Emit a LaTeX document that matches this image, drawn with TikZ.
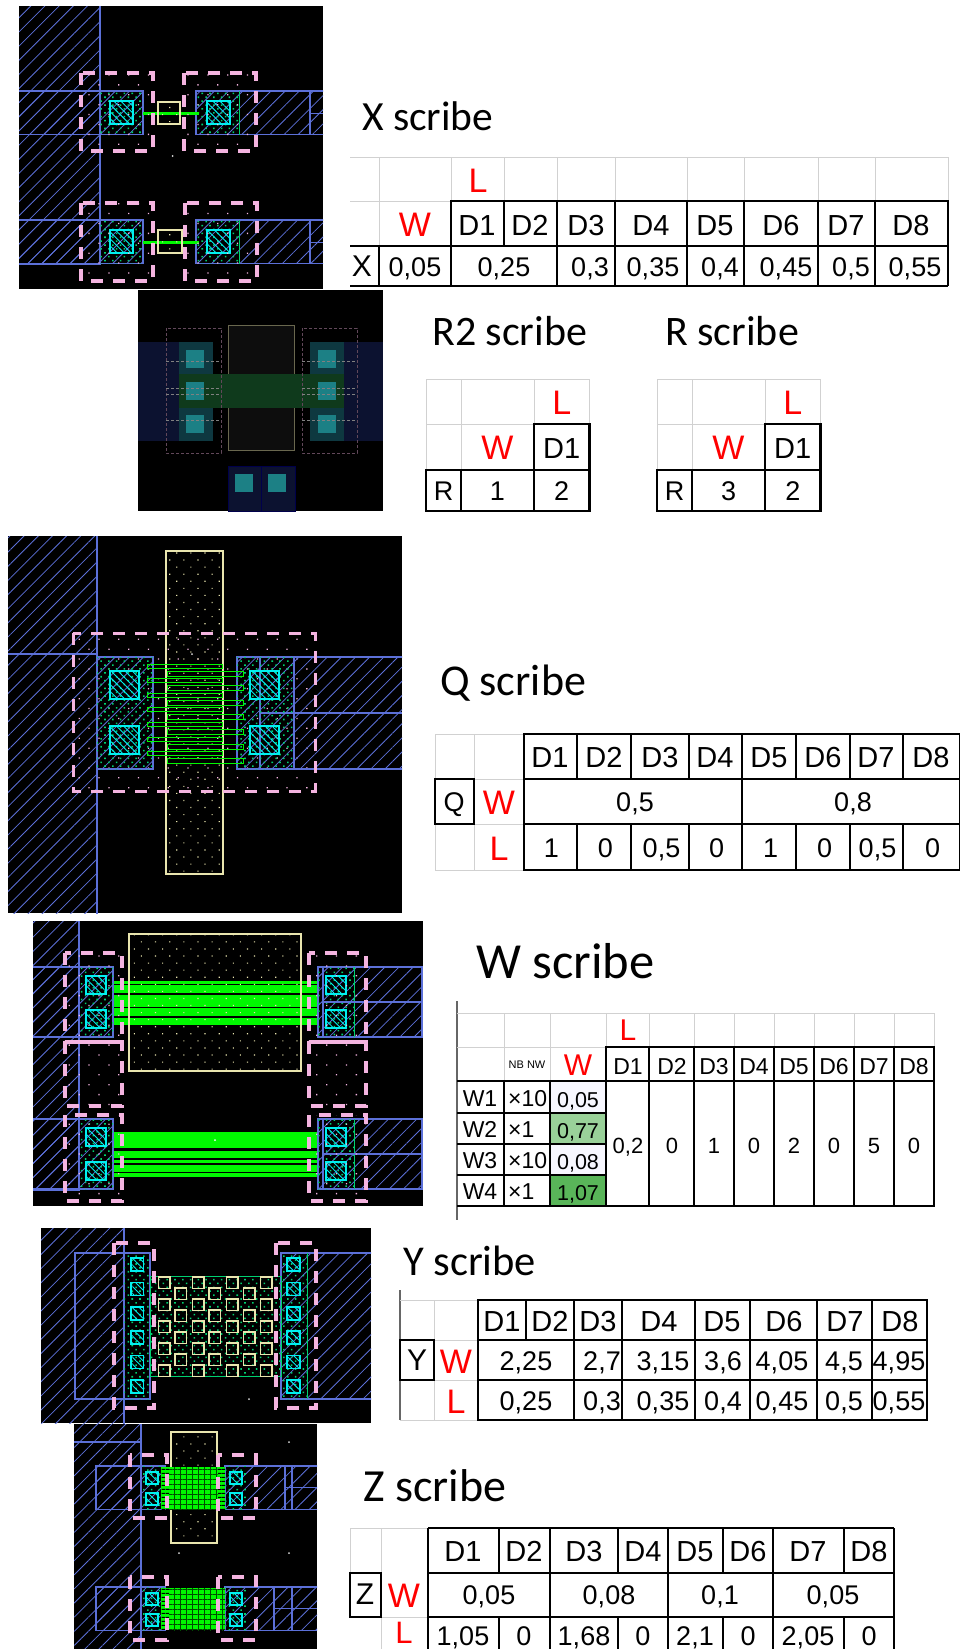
\documentclass[tikz,border=0pt]{standalone}
\usepackage{fontspec}
\setmainfont{Liberation Sans}
\newfontfamily\titlefont{Carlito}
\usetikzlibrary{patterns.meta}
\definecolor{metalblue}{HTML}{5C70D8}
\definecolor{selpink}{HTML}{F4B4E0}
\definecolor{polycream}{HTML}{E9E5AE}
\definecolor{gategreen}{HTML}{00F800}
\definecolor{diffgreen}{HTML}{00D070}
\definecolor{viacyan}{HTML}{00F0F0}
\definecolor{dimmetal}{HTML}{0C1230}
\definecolor{dimdiff}{HTML}{0E3840}
\definecolor{dimgate}{HTML}{0F3A1C}
\definecolor{dimvia}{HTML}{1C8085}
\tikzset{
  metal/.style={draw=metalblue,line width=1.2pt,pattern={Lines[angle=45,distance=10pt,line width=.8pt]},pattern color=metalblue},
  metalline/.style={draw=metalblue,line width=1.2pt},
  diffusion/.style={pattern={Dots[angle=45,distance=5.5pt,radius=1.1pt]},pattern color=diffgreen},
  contact/.style={draw=viacyan,line width=1.5pt,pattern={Lines[angle=-45,distance=5pt,line width=.9pt]},pattern color=viacyan},
  poly/.style={draw=polycream,line width=1.3pt,pattern={Dots[angle=45,distance=10pt,radius=.8pt]},pattern color=polycream},
  gate/.style={fill=gategreen},
  finger/.style={draw=gategreen,line width=1pt},
  selbox/.style={draw=selpink,line width=3.6pt,dash pattern=on 12pt off 10pt},
  seldots/.style={pattern={Dots[angle=45,distance=14pt,radius=.9pt]},pattern color=selpink},
  gridline/.style={draw=black!18,line width=1pt},
  tablerule/.style={draw=black,line width=2.2pt},
  cell/.style={inner sep=0pt,text height=19pt,text depth=0pt,font=\fontsize{27}{27}\selectfont},
  headcell/.style={inner sep=0pt,text height=20pt,text depth=0pt,font=\fontsize{29}{29}\selectfont},
  smallcell/.style={inner sep=0pt,text height=16pt,text depth=0pt,font=\fontsize{23}{23}\selectfont},
  redcell/.style={inner sep=0pt,text height=24pt,text depth=0pt,text=red,font=\fontsize{34}{34}\selectfont},
  title/.style={anchor=west,inner sep=0pt,font=\titlefont\fontsize{41.5}{42}\selectfont},
  dimbox/.style={draw=selpink!40!black,line width=1pt,dash pattern=on 3pt off 2pt}
}
\begin{document}
\begin{tikzpicture}[x=1pt,y=-1pt]
\useasboundingbox (0,0) rectangle (960,1649);
\fill[white] (0,0) rectangle (960,1649);

% layout X
\begin{scope}
\clip (19,6) rectangle (323,289);
\fill[black] (19,6) rectangle (323,289);
\draw[metal] (16,3) rectangle (100,264);
\foreach \y in {91,220} {
  \draw[metal] (16,\y) rectangle (143,\y+43.5);
  \draw[metal] (196,\y) rectangle (326,\y+43.5);
  \fill[diffusion] (100,\y) rectangle (143,\y+43.5);
  \fill[diffusion] (196,\y) rectangle (239,\y+43.5);
  \draw[draw=diffgreen,line width=1pt] (239,\y) -- (239,\y+43.5);
  \draw[contact] (110,\y+10) rectangle (133,\y+33);
  \draw[contact] (207,\y+10) rectangle (230,\y+33);
  \draw[metalline] (310,\y) -- (310,\y+43.5) (310,\y+22.5) -- (323,\y+22.5);
  \fill[gate] (143,\y+20.5) rectangle (199,\y+24);
}
\draw[poly] (158,102) rectangle (180,124);
\draw[poly] (158,230) rectangle (182,253);
\foreach \x/\y in {81/73,184/73,81/203,185/203} {
  \fill[seldots] (\x,\y) rectangle (\x+72,\y+78);
  \draw[selbox] (\x,\y) rectangle (\x+72,\y+78);
}
\end{scope}

% layout R2
\fill[black] (138,290) rectangle (383,511);
\fill[dimmetal] (138,342) rectangle (213,441);
\fill[dimmetal] (310,342) rectangle (383,441);
\fill[dimdiff] (179,342) rectangle (213,441);
\fill[dimdiff] (310,342) rectangle (344,441);
\draw[draw=polycream!45!black,fill=black!95!white,line width=1pt] (228,325) rectangle (294,450);
\fill[dimgate] (179,374) rectangle (344,408);
\foreach \x in {186,318} \foreach \y in {350,382,415}
  \fill[dimvia] (\x,\y) rectangle (\x+18,\y+18);
\foreach \x in {166,302} {
  \draw[dimbox] (\x,328) rectangle (\x+55,453);
  \foreach \y in {361,388,394,420} \draw[dimbox,draw=white!50!black] (\x,\y) -- (\x+55,\y);
}
\draw[draw=blue!30!black,fill=dimmetal] (228,466) rectangle (261,511);
\draw[draw=blue!30!black,fill=dimmetal] (261,466) rectangle (295,511);
\foreach \x in {235,268} \fill[dimvia] (\x,474) rectangle (\x+18,492);

% layout Q
\begin{scope}
\clip (8,536) rectangle (402,913);
\fill[black] (8,536) rectangle (402,913);
\draw[metal] (5,533) rectangle (97,916);
\draw[metalline] (8,654) -- (97,654);
\fill[seldots] (73,633) rectangle (315,791);
\draw[metal] (237,657) rectangle (405,769);
\draw[metalline] (260,657) -- (260,769) (294,657) -- (294,769) (260,713) -- (402,713);
\draw[metal] (97,657) rectangle (153,769);
\fill[diffusion] (97,657) rectangle (153,769);
\fill[diffusion] (237,657) rectangle (294,769);
\foreach \x in {110,250} \foreach \y in {671,726}
  \draw[contact] (\x,\y) rectangle (\x+29,\y+28);
\draw[poly] (166,551) rectangle (223,874);
\foreach \i in {0,...,6} {
  \draw[finger] (147,664+14.6*\i) rectangle (222,668+14.6*\i);
  \draw[finger] (167,671+14.6*\i) rectangle (243,676+14.6*\i);
}
\draw[selbox,line width=3pt] (73,633) rectangle (315,791);
\end{scope}

% layout W
\begin{scope}
\clip (33,921) rectangle (423,1206);
\fill[black] (33,921) rectangle (423,1206);
\draw[metal] (30,918) rectangle (79,1190);
\foreach \y/\h in {981/3,985/8,995/12,1008/8,1018/7,1132/16,1151/7,1160/3,1165/7,1173/4}
  \fill[gate] (113,\y) rectangle (318,\y+\h);
\draw[poly] (129,934) rectangle (301,1071);
\fill[white] (215,1140) circle (1pt);
\foreach \y in {967,1119} {
  \draw[metal] (30,\y) rectangle (113,\y+70);
  \draw[metal] (318,\y) rectangle (422,\y+70);
  \fill[diffusion] (79,\y) rectangle (113,\y+70);
  \fill[diffusion] (318,\y) rectangle (354,\y+70);
  \draw[draw=diffgreen,line width=1pt] (354,\y) -- (354,\y+70);
  \draw[metalline] (323,\y) -- (323,\y+70) (323,\y+35) -- (423,\y+35);
  \foreach \x in {86,326} \foreach \d in {9,43}
    \draw[contact] (\x,\y+\d) rectangle (\x+20,\y+\d+18);
}
\foreach \x in {65,309} \foreach \y/\h in {953/89,1042/64,1115/86} {
  \fill[seldots] (\x,\y) rectangle (\x+57,\y+\h);
  \draw[selbox] (\x,\y) rectangle (\x+57,\y+\h);
}
\end{scope}

% layout Y
\begin{scope}
\clip (41,1228) rectangle (371,1423);
\fill[black] (41,1228) rectangle (371,1423);
\draw[metal] (38,1225) rectangle (124,1426);
\draw[metal] (281,1253) rectangle (374,1399);
\draw[metalline] (75,1253) rectangle (150,1399);
\fill[diffusion] (124,1253) rectangle (150,1399);
\fill[diffusion] (281,1253) rectangle (307,1399);
\draw[draw=diffgreen,line width=1pt] (307,1253) -- (307,1399);
\foreach \i in {0,...,5} {
  \draw[contact] (131,1258+24.4*\i) rectangle (143.5,1271+24.4*\i);
  \draw[contact] (287,1258+24.4*\i) rectangle (300,1271+24.4*\i);
}
\fill[diffusion] (150,1276) rectangle (281,1376);
\draw[draw=diffgreen,line width=1pt] (150,1276) rectangle (281,1376);
\foreach \x in {158.5,192.5,226.5,260.5} \foreach \i in {0,...,4}
  \draw[draw=polycream,line width=1.3pt] (\x,1277+22*\i) rectangle (\x+11.5,1288.5+22*\i);
\foreach \x in {175,209,243.5} \foreach \i in {0,...,3}
  \draw[draw=polycream,line width=1.3pt] (\x,1288+22*\i) rectangle (\x+11.5,1299.5+22*\i);
\foreach \x in {114,276} \draw[selbox] (\x,1243) rectangle (\x+40,1408);
\end{scope}

% layout Z
\begin{scope}
\clip (74,1424) rectangle (317,1649);
\fill[black] (74,1424) rectangle (317,1649);
\draw[metal] (71,1421) rectangle (141,1652);
\draw[metalline] (74,1442) -- (141,1442);
\draw[poly] (171,1432) rectangle (217,1543);
\foreach \y/\t/\g in {1466/285/218,1587/274/225} {
  \draw[metal] (96,\y) rectangle (165,\y+43.5);
  \draw[metal] (225,\y) rectangle (320,\y+43.5);
  \fill[diffusion] (141,\y) rectangle (165,\y+43.5);
  \fill[diffusion] (225,\y) rectangle (247,\y+43.5);
  \draw[metalline] (\t,\y) -- (\t,\y+43.5) (292,\y) -- (292,\y+43.5) (\t,\y+21.5) -- (317,\y+21.5);
  \foreach \x in {146,230} \foreach \d in {6,27}
    \draw[contact] (\x,\y+\d) rectangle (\x+12,\y+\d+12);
  \fill[gate] (161,\y+1) rectangle (225,\y+43);
  \fill[pattern={Lines[angle=0,distance=4pt,line width=1.1pt]},pattern color=black] (161,\y+1) rectangle (169,\y+43);
  \fill[pattern={Lines[angle=0,distance=4pt,line width=1.1pt]},pattern color=black] (\g,\y+1) rectangle (225,\y+43);
  \fill[pattern={Lines[angle=0,distance=5pt,line width=.15pt]},pattern color=green!30!black] (169,\y+1) rectangle (\g,\y+43);
  \fill[pattern={Lines[angle=90,distance=6pt,line width=.15pt]},pattern color=green!30!black] (169,\y+1) rectangle (\g,\y+43);
}
\foreach \y in {1455,1577} {
  \draw[selbox] (130,\y) rectangle (167,\y+63);
  \draw[selbox] (218,\y) rectangle (256,\y+63);
}
\end{scope}
\foreach \x/\y in {172.6/156,192/654,249/1399,179/1553,289/1553,289/1442}
  \fill[white!85!black] (\x,\y) circle (1pt);

% X table
\node[title] (xtitle) at (362,116) {X scribe};
\foreach \x in {379,451,504,557,615,687,744,818,875,948} \draw[gridline] (\x,157) -- (\x,201);
\draw[gridline] (350,157) -- (948,157) (350,201) -- (451,201) (379,201) -- (379,246);
\draw[tablerule] (451,201) rectangle (948,246) (350,246) -- (948,246) (350,286) -- (948,286);
\foreach \x in {504,557,615,687,744,818,875} \draw[tablerule] (\x,201) -- (\x,246);
\foreach \x in {379,451,557,615,687,744,818,875,948} \draw[tablerule] (\x,246) -- (\x,286);
\node[redcell] (xl) at (478,180) {L};
\node[redcell] (xw) at (415,224) {W};
\foreach \x/\lab [count=\i] in {477/D1,530/D2,586/D3,651/D4,715/D5,781/D6,846/D7,911/D8}
  \node[headcell] (xd\i) at (\x,225) {\lab};
\node[cell,font=\fontsize{30}{30}\selectfont] (xname) at (362,267) {X};
\foreach \x/\lab [count=\i] in {415/{0,05},504/{0,25},590/{0,3},653/{0,35},720/{0,4},786/{0,45},851/{0,5},915/{0,55}}
  \node[cell] (xv\i) at (\x,267) {\lab};

% R2 and R tables
\node[title,font=\titlefont\fontsize{42}{42}\selectfont] (rbtitle) at (432,331) {R2 scribe};
\node[title,font=\titlefont\fontsize{42}{42}\selectfont] (rtitle) at (665,331) {R scribe};
\foreach \x/\w/\n/\nm in {426/461/1/rb,657/692/3/ra} {
  \pgfmathsetmacro{\xb}{\x+(\w-\x)+73}
  \pgfmathsetmacro{\xc}{\xb+55.5}
  \draw[gridline] (\x,379) -- (\xc,379) (\x,424) -- (\xb,424) (\x,379) -- (\x,470) (\w,379) -- (\w,470) (\xb,379) -- (\xb,424) (\xc,379) -- (\xc,424);
  \draw[tablerule] (\xb,424) rectangle (\xc,470) (\x,470) rectangle (\xc,511) (\w,470) -- (\w,511) (\xb,470) -- (\xb,511);
  \node[redcell] (\nm l) at ({(\xb+\xc)/2},402) {L};
  \node[redcell] (\nm w) at ({(\w+\xb)/2},447) {W};
  \node[headcell] (\nm d) at ({(\xb+\xc)/2},448) {D1};
  \node[cell] (\nm name) at ({(\x+\w)/2},491) {R};
  \node[cell] (\nm v) at ({(\w+\xb)/2},491) {\n};
  \node[cell] (\nm u) at ({(\xb+\xc)/2},491) {2};
}

% Q table
\node[title,font=\titlefont\fontsize{44}{44}\selectfont] (qtitle) at (440,683) {Q scribe};
\draw[gridline] (435,734) rectangle (524,870) (474,734) -- (474,870) (435,779) -- (524,779) (435,824) -- (524,824);
\draw[tablerule] (524,734) rectangle (960,870) (524,779) -- (960,779) (524,824) -- (960,824) (435,779) rectangle (474,824);
\foreach \x in {577,631,689,742,796,850,903} {
  \draw[tablerule] (\x,734) -- (\x,779);
  \draw[tablerule] (\x,824) -- (\x,870);
}
\draw[tablerule] (742,779) -- (742,824);
\node[cell] (qname) at (454,802) {Q};
\node[redcell] (qw) at (499,802) {W};
\node[redcell] (ql) at (499,848) {L};
\foreach \x/\a/\b [count=\i] in {550/D1/1,604/D2/0,660/D3/{0,5},715/D4/0,769/D5/1,823/D6/0,876/D7/{0,5},931/D8/0} {
  \node[headcell] (qd\i) at (\x,757) {\a};
  \node[cell] (qv\i) at (\x+1.5,848) {\b};
}
\node[cell] (qa) at (635,802) {0,5};
\node[cell] (qb) at (853,802) {0,8};

% W table
\node[title,font=\titlefont\fontsize{50.5}{51}\selectfont] (wtitle) at (476,961) {W scribe};
\fill[green!55!black!40!white] (550,1113) rectangle (606,1144);
\fill[green!55!black!65!white] (550,1175) rectangle (606,1206);
\fill[blue!3] (550,1081) rectangle (606,1113);
\fill[blue!3] (550,1144) rectangle (606,1175);
\draw[draw=black!60,line width=1.4pt] (457,1001) -- (457,1220);
\foreach \x in {504,550,606,649,694,734,774,814,854,894,934} \draw[gridline] (\x,1013) -- (\x,1047);
\draw[gridline] (457,1013) -- (934,1013) (457,1047) -- (606,1047) (504,1047) -- (504,1081) (550,1047) -- (550,1081);
\draw[tablerule] (606,1047) rectangle (934,1206) (606,1081) -- (934,1081) (457,1206) -- (934,1206);
\foreach \x in {649,694,734,774,814,854,894} \draw[tablerule] (\x,1047) -- (\x,1206);
\draw[tablerule] (457,1081) -- (606,1081) (504,1081) -- (504,1206) (550,1081) -- (550,1206);
\foreach \y in {1113,1144,1175} \draw[tablerule] (457,\y) -- (606,\y);
\node[redcell,font=\fontsize{30}{30}\selectfont,text height=21pt] (wl) at (628,1030) {L};
\node[redcell,font=\fontsize{30}{30}\selectfont,text height=21pt] (ww) at (578,1065) {W};
\node[inner sep=0pt,font=\fontsize{11}{11}\selectfont] (wnb) at (527,1065) {NB NW};
\foreach \x/\lab [count=\i] in {628/D1,672/D2,714/D3,754/D4,794/D5,834/D6,874/D7,914/D8}
  \node[smallcell] (wd\i) at (\x,1066) {\lab};
\foreach \y/\a/\b/\c [count=\i] in {1098/W1/×10/{0,05},1129/W2/×1/{0,77},1160/W3/×10/{0,08},1191/W4/×1/{1,07}} {
  \node[smallcell] (wn\i) at (480,\y) {\a};
  \node[smallcell,anchor=west] (wm\i) at (508,\y) {\b};
  \node[smallcell,font=\fontsize{21.5}{22}\selectfont] (wc\i) at (578,\y+1) {\c};
}
\foreach \x/\lab [count=\i] in {628/{0,2},672/0,714/1,754/0,794/2,834/0,874/5,914/0}
  \node[smallcell,font=\fontsize{22}{22}\selectfont] (wv\i) at (\x,1145) {\lab};

% Y table
\node[title,font=\titlefont\fontsize{42.5}{43}\selectfont] (ytitle) at (403,1261) {Y scribe};
\draw[draw=black!60,line width=1.4pt] (400,1290) -- (400,1420);
\draw[gridline] (400,1300) -- (478,1300) (434,1300) -- (434,1420) (400,1340) -- (478,1340) (400,1380) -- (478,1380) (400,1420) -- (478,1420);
\draw[tablerule] (478,1300) rectangle (927,1420) (478,1340) -- (927,1340) (478,1380) -- (927,1380) (400,1340) rectangle (434,1380);
\foreach \x in {526,574,622,695,750,817,872} \draw[tablerule] (\x,1300) -- (\x,1340);
\foreach \x in {574,622,695,750,817,872} \draw[tablerule] (\x,1340) -- (\x,1420);
\node[cell,font=\fontsize{30}{30}\selectfont] (yname) at (417,1361) {Y};
\node[redcell] (yw) at (456,1361) {W};
\node[redcell] (yl) at (456,1401) {L};
\foreach \x/\lab [count=\i] in {502/D1,550/D2,598/D3,659/D4,722/D5,784/D6,845/D7,900/D8}
  \node[headcell] (yd\i) at (\x,1321) {\lab};
\foreach \x/\a/\b [count=\i] in {602/{2,7}/{0,3},663/{3,15}/{0,35},723/{3,6}/{0,4},782/{4,05}/{0,45},844/{4,5}/{0,5},899/{4,95}/{0,55}} {
  \node[cell] (ya\i) at (\x,1361) {\a};
  \node[cell] (yb\i) at (\x,1401) {\b};
}
\node[cell] (yc) at (526,1361) {2,25};
\node[cell] (ye) at (526,1401) {0,25};

% Z table
\node[title,font=\titlefont\fontsize{46}{46}\selectfont] (ztitle) at (363,1486) {Z scribe};
\draw[gridline] (350,1528) -- (428,1528) (350,1528) -- (350,1573) (381,1528) -- (381,1649) (350,1617) -- (428,1617);
\draw[tablerule] (428,1528) -- (894,1528) (428,1528) -- (428,1649) (894,1528) -- (894,1649) (428,1573) -- (894,1573) (428,1617) -- (894,1617) (350,1573) rectangle (381,1617);
\foreach \x in {499,550,618,668,723,773,844} {
  \draw[tablerule] (\x,1528) -- (\x,1573);
  \draw[tablerule] (\x,1617) -- (\x,1649);
}
\foreach \x in {550,668,773} \draw[tablerule] (\x,1573) -- (\x,1617);
\node[cell,font=\fontsize{30}{30}\selectfont] (zname) at (365,1595) {Z};
\node[redcell] (zw) at (404,1595) {W};
\node[redcell,font=\fontsize{31}{31}\selectfont,text height=21pt] (zl) at (404,1633) {L};
\foreach \x/\a/\b [count=\i] in {463/D1/{1,05},524/D2/0,584/D3/{1,68},643/D4/0,695/D5/{2,1},748/D6/0,808/D7/{2,05},869/D8/0} {
  \node[headcell] (zd\i) at (\x,1551) {\a};
  \node[cell] (zv\i) at (\x,1636) {\b};
}
\foreach \x/\lab [count=\i] in {489/{0,05},609/{0,08},720/{0,1},833/{0,05}}
  \node[cell] (za\i) at (\x,1595) {\lab};
\end{tikzpicture}
\end{document}
